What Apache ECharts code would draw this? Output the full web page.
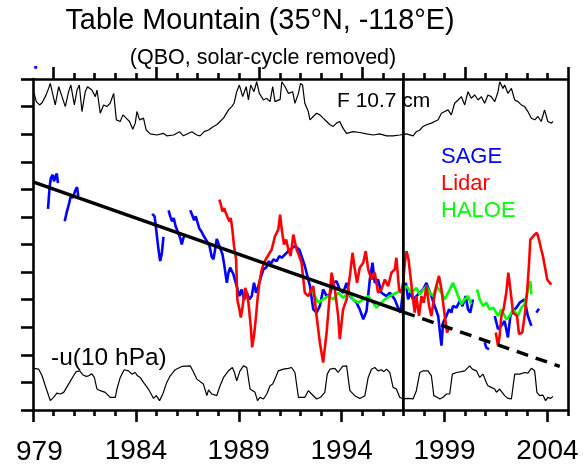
<!DOCTYPE html>
<html><head><meta charset="utf-8">
<script src="https://cdn.jsdelivr.net/npm/echarts@6/dist/echarts.min.js"></script>
<style>html,body{margin:0;padding:0;background:#fff}#c{width:583px;height:465px}</style>
</head><body><div id="c"></div>
<script>
const FONT = 'Liberation Sans, Arial, Helvetica, sans-serif';
const xMajorBottom = [1979, 1984, 1989, 1994, 1999, 2004];
const xLabelled = [1984, 1989, 1994, 1999, 2004];
const firstLabelVisible = '979';
const xMinorBottom = [1980,1981,1982,1983,1985,1986,1987,1988,1990,1991,1992,1993,1995,1996,1997,1998,2000,2001,2002,2003,2005];
const xMajorTop = [1980, 1985, 1990, 1995, 2000, 2005];
const xMinorTop = [1981,1982,1983,1984,1986,1987,1988,1989,1991,1992,1993,1994,1996,1997,1998,1999,2001,2002,2003,2004];
const breakYear = 1997;

const f107 = [[1979.03,11.54],[1979.16,11.18],[1979.32,11.06],[1979.44,11.14],[1979.60,11.36],[1979.76,11.66],[1979.84,11.84],[1979.95,11.48],[1980.08,11.06],[1980.25,11.72],[1980.41,11.36],[1980.57,11.00],[1980.73,11.54],[1980.84,11.78],[1981.01,11.06],[1981.14,11.60],[1981.25,11.78],[1981.38,10.82],[1981.54,11.54],[1981.65,11.72],[1981.86,11.60],[1982.03,11.36],[1982.11,11.60],[1982.27,10.76],[1982.43,11.06],[1982.59,11.00],[1982.75,11.12],[1982.92,11.48],[1983.05,10.52],[1983.24,10.46],[1983.37,10.70],[1983.53,10.58],[1983.69,10.46],[1983.85,10.18],[1983.97,10.40],[1984.05,10.82],[1984.18,10.52],[1984.37,10.58],[1984.50,10.15],[1984.70,10.01],[1985.02,9.97],[1985.34,10.03],[1985.50,9.94],[1985.83,9.97],[1986.12,10.09],[1986.31,9.94],[1986.72,10.09],[1986.96,9.97],[1987.12,9.94],[1987.32,10.09],[1987.53,10.15],[1987.77,10.28],[1987.93,10.34],[1988.09,10.46],[1988.26,10.58],[1988.50,10.88],[1988.66,11.00],[1988.77,11.12],[1988.90,11.54],[1989.03,11.78],[1989.19,11.36],[1989.36,11.72],[1989.47,11.24],[1989.58,11.78],[1989.74,11.54],[1989.87,11.90],[1990.00,11.48],[1990.20,11.24],[1990.36,11.30],[1990.52,11.18],[1990.65,11.72],[1990.76,11.18],[1991.01,11.26],[1991.09,11.90],[1991.25,11.72],[1991.41,11.48],[1991.62,11.54],[1991.73,11.12],[1991.90,11.48],[1992.00,11.84],[1992.10,11.78],[1992.21,11.12],[1992.38,10.82],[1992.46,10.52],[1992.62,10.64],[1992.78,10.76],[1992.94,10.70],[1993.10,10.58],[1993.27,10.46],[1993.43,10.34],[1993.59,10.28],[1993.75,10.40],[1993.91,10.46],[1994.07,10.21],[1994.24,10.03],[1994.56,10.09],[1994.88,10.06],[1995.21,10.01],[1995.53,9.97],[1995.85,10.01],[1996.18,9.94],[1996.50,9.94],[1996.82,9.97],[1997.15,10.01],[1997.47,9.94],[1997.63,10.09],[1997.80,10.15],[1997.96,10.28],[1998.12,10.34],[1998.36,10.40],[1998.52,10.46],[1998.69,10.52],[1998.85,10.76],[1999.01,10.82],[1999.17,10.88],[1999.33,10.70],[1999.49,11.12],[1999.66,11.24],[1999.82,11.36],[1999.98,11.06],[2000.14,11.54],[2000.30,11.30],[2000.47,11.42],[2000.63,11.24],[2000.79,11.36],[2000.95,11.12],[2001.11,11.42],[2001.27,11.36],[2001.44,11.18],[2001.60,11.54],[2001.68,11.90],[2001.84,11.66],[2001.92,11.78],[2002.08,11.48],[2002.25,11.66],[2002.41,11.24],[2002.57,11.18],[2002.73,11.06],[2002.89,11.00],[2003.05,10.82],[2003.22,10.58],[2003.38,10.52],[2003.54,10.64],[2003.70,10.46],[2003.86,10.88],[2004.02,10.46],[2004.19,10.40],[2004.27,10.46]];

const uWind = [[1979.03,1.51],[1979.28,1.48],[1979.44,1.24],[1979.65,0.76],[1979.84,0.34],[1980.00,0.46],[1980.16,0.61],[1980.33,0.58],[1980.49,0.64],[1980.73,0.94],[1980.97,1.24],[1981.10,1.39],[1981.27,1.42],[1981.43,1.27],[1981.59,1.22],[1981.70,1.24],[1981.86,1.31],[1981.98,1.18],[1982.11,0.76],[1982.27,0.70],[1982.51,0.64],[1982.75,0.46],[1983.00,0.46],[1983.08,0.76],[1983.24,1.18],[1983.43,1.46],[1983.64,1.42],[1983.81,1.30],[1983.97,1.36],[1984.08,1.24],[1984.21,1.18],[1984.37,1.00],[1984.61,0.76],[1984.86,0.42],[1984.99,0.52],[1985.15,0.34],[1985.31,0.58],[1985.50,1.00],[1985.67,1.24],[1985.91,1.46],[1986.23,1.58],[1986.64,1.60],[1986.77,1.42],[1986.96,1.12],[1987.28,0.94],[1987.45,0.52],[1987.53,0.73],[1987.69,0.58],[1987.93,0.52],[1988.09,0.88],[1988.26,1.18],[1988.50,1.42],[1988.69,1.54],[1988.79,1.36],[1988.90,1.06],[1989.06,1.42],[1989.23,1.60],[1989.39,1.54],[1989.55,0.76],[1989.79,0.64],[1989.91,0.34],[1990.03,0.46],[1990.20,0.40],[1990.36,0.58],[1990.52,0.88],[1990.65,0.94],[1990.76,1.12],[1990.92,1.42],[1991.17,1.48],[1991.41,1.51],[1991.57,1.54],[1991.73,1.36],[1991.90,0.46],[1992.00,0.46],[1992.21,0.46],[1992.38,0.70],[1992.54,0.58],[1992.78,0.40],[1992.97,0.46],[1993.18,0.64],[1993.30,1.30],[1993.43,1.48],[1993.67,1.51],[1993.83,1.36],[1994.04,1.58],[1994.24,1.60],[1994.40,0.70],[1994.64,0.52],[1994.88,0.42],[1995.13,0.52],[1995.29,1.18],[1995.45,1.48],[1995.61,1.54],[1995.77,1.42],[1995.93,1.46],[1996.05,1.39],[1996.18,1.48],[1996.34,1.36],[1996.50,0.82],[1996.66,0.76],[1996.82,0.46],[1996.99,0.40],[1997.23,0.42],[1997.47,0.40],[1997.63,0.70],[1997.80,1.36],[1997.96,1.42],[1998.20,1.42],[1998.36,1.24],[1998.48,0.52],[1998.64,0.46],[1998.77,0.40],[1998.93,0.46],[1999.09,0.58],[1999.25,0.58],[1999.38,1.30],[1999.58,1.36],[1999.82,1.39],[1999.98,1.42],[2000.22,1.60],[2000.35,1.48],[2000.55,1.42],[2000.71,1.18],[2000.87,1.30],[2001.03,1.00],[2001.11,0.88],[2001.27,0.82],[2001.44,0.76],[2001.52,0.64],[2001.68,0.76],[2001.92,0.52],[2002.08,0.42],[2002.25,0.40],[2002.41,1.30],[2002.65,1.30],[2002.89,1.36],[2003.05,1.34],[2003.22,1.51],[2003.38,1.42],[2003.49,0.64],[2003.62,0.52],[2003.78,0.54],[2003.91,0.34],[2004.02,0.46],[2004.14,0.42],[2004.27,0.49]];

const sage = [[1979.06,12.42],[1979.20,12.42],[1979.4,null],
[1979.73,7.29],[1979.81,8.11],[1979.87,8.41],[1979.95,8.53],[1980.02,8.29],[1980.10,8.49],[1980.16,8.57],[1980.21,8.23],[1980.4,null],
[1980.54,6.84],[1980.65,7.20],[1980.76,7.51],[1980.84,7.77],[1980.94,7.69],[1981.04,7.93],[1981.14,8.08],[1981.20,7.75],[1983,null],
[1984.79,7.11],[1984.91,7.02],[1984.97,6.66],[1985.05,6.12],[1985.12,5.70],[1985.18,5.40],[1985.26,5.67],[1985.34,6.28],[1985.45,null],
[1985.59,7.24],[1985.67,7.02],[1985.76,6.84],[1985.84,6.96],[1985.92,6.69],[1986.04,6.45],[1986.15,6.24],[1986.23,6.00],[1986.31,6.24],[1986.41,6.36],[1986.5,null],
[1986.64,7.24],[1986.73,7.08],[1986.83,6.88],[1986.91,7.02],[1986.99,6.81],[1987.09,6.57],[1987.20,6.45],[1987.32,6.28],[1987.45,6.12],[1987.58,5.94],[1987.69,5.55],[1987.77,5.46],[1987.85,5.82],[1987.93,6.20],[1988.01,6.04],[1988.09,5.88],[1988.21,5.64],[1988.29,5.28],[1988.42,4.61],[1988.50,4.98],[1988.58,5.16],[1988.74,4.92],[1988.90,4.49],[1989.03,4.13],[1989.14,4.37],[1989.26,4.01],[1989.39,4.25],[1989.52,4.01],[1989.63,4.13],[1989.74,4.61],[1989.84,4.25],[1989.95,4.49],[1990.07,4.80],[1990.20,5.10],[1990.33,5.16],[1990.46,5.40],[1990.55,5.28],[1990.68,5.46],[1990.84,5.40],[1990.97,5.58],[1991.09,5.52],[1991.25,5.64],[1991.49,5.82],[1991.73,5.94],[1991.94,5.82],[1992.21,5.22],[1992.46,4.49],[1992.62,3.65],[1992.78,3.53],[1992.94,3.77],[1993.10,4.37],[1993.27,4.13],[1993.43,4.19],[1993.59,4.61],[1993.75,4.67],[1993.91,4.37],[1994.07,4.25],[1994.24,4.61],[1994.40,4.13],[1994.56,4.01],[1994.72,3.89],[1994.88,3.65],[1995.05,3.29],[1995.21,3.59],[1995.37,4.73],[1995.50,5.34],[1995.61,4.61],[1995.77,4.73],[1995.93,4.25],[1996.18,4.13],[1996.34,4.25],[1996.58,4.01],[1996.74,3.71],[1996.86,3.53],[1996.99,4.37],[1997.12,4.61],[1997.23,4.01],[1997.34,4.25],[1997.47,4.01],[1997.63,4.13],[1997.80,4.25],[1997.96,4.37],[1998.12,4.61],[1998.23,4.37],[1998.36,4.13],[1998.52,3.77],[1998.69,3.41],[1998.85,2.33],[1998.93,3.17],[1999.09,3.41],[1999.22,3.65],[1999.33,3.53],[1999.41,3.77],[1999.58,3.71],[1999.74,3.95],[1999.87,3.77],[2000.03,4.13],[2000.14,3.65],[2000.25,3.53],[2000.38,4.01],[2000.6,null],
[2000.95,2.45],[2001.03,2.26],[2001.16,2.20],[2001.3,null],
[2001.44,3.41],[2001.60,2.93],[2001.76,3.05],[2001.92,3.23],[2002.08,2.63],[2002.20,3.41],[2002.33,3.59],[2002.49,3.71],[2002.65,3.89],[2002.89,4.01],[2003.05,3.41],[2003.22,3.05],[2003.35,null],
[2003.46,3.53],[2003.59,3.67]];

const lidar = [[1988.06,7.63],[1988.13,7.44],[1988.21,7.20],[1988.29,7.32],[1988.38,7.12],[1988.47,6.96],[1988.55,6.84],[1988.61,6.96],[1988.69,6.54],[1988.77,5.94],[1988.87,5.46],[1988.93,4.01],[1989.03,3.65],[1989.10,3.35],[1989.19,3.77],[1989.31,4.43],[1989.39,4.25],[1989.47,3.89],[1989.58,3.05],[1989.65,2.27],[1989.74,2.69],[1989.84,3.41],[1989.91,4.01],[1990.00,4.61],[1990.12,5.10],[1990.23,5.34],[1990.36,5.52],[1990.60,5.82],[1990.76,6.30],[1990.92,6.54],[1991.01,7.08],[1991.09,6.54],[1991.20,6.00],[1991.30,6.18],[1991.41,5.82],[1991.52,5.58],[1991.65,6.36],[1991.81,5.82],[1991.94,5.58],[1992.05,5.34],[1992.21,4.25],[1992.38,4.13],[1992.62,4.49],[1992.78,3.41],[1992.94,2.45],[1993.10,1.72],[1993.27,2.81],[1993.43,4.25],[1993.51,4.98],[1993.67,4.37],[1993.83,3.41],[1993.91,2.57],[1994.07,3.65],[1994.24,4.01],[1994.40,4.86],[1994.53,5.70],[1994.64,5.10],[1994.75,4.61],[1994.88,5.16],[1995.05,5.34],[1995.17,5.76],[1995.29,5.10],[1995.45,4.73],[1995.61,4.98],[1995.77,4.25],[1995.93,4.37],[1996.10,4.73],[1996.26,4.49],[1996.42,4.98],[1996.58,5.10],[1996.66,5.52],[1996.79,4.37],[1996.89,4.25],[1996.99,4.61],[1997.07,5.34],[1997.15,5.76],[1997.25,5.46],[1997.34,4.86],[1997.47,4.01],[1997.55,3.53],[1997.63,4.13],[1997.76,3.41],[1997.88,4.13],[1997.99,3.89],[1998.12,4.49],[1998.25,3.77],[1998.36,3.41],[1998.48,4.01],[1998.60,4.49],[1998.73,4.86],[1998.85,4.37],[1999.01,3.41],[1999.12,2.81],[1999.25,2.99],[2000,null],
[2001.49,2.81],[2001.60,2.33],[2001.68,2.69],[2001.76,3.41],[2001.87,3.65],[2002.00,4.25],[2002.10,4.98],[2002.20,4.37],[2002.33,3.53],[2002.52,3.41],[2002.62,2.75],[2002.78,2.81],[2002.89,3.41],[2003.01,4.25],[2003.10,5.22],[2003.17,6.18],[2003.26,6.24],[2003.38,6.36],[2003.49,6.42],[2003.59,6.18],[2003.70,5.82],[2003.78,5.58],[2003.90,5.10],[2003.99,4.73],[2004.11,4.61],[2004.19,4.55]];

const haloe = [[1992.46,4.37],[1992.62,4.25],[1992.86,3.89],[1993.10,4.01],[1993.35,4.13],[1993.59,4.01],[1993.83,4.25],[1994.07,4.07],[1994.32,4.25],[1994.56,4.01],[1994.80,3.89],[1995.05,4.01],[1995.29,4.13],[1995.53,3.89],[1995.69,3.71],[1995.85,3.83],[1996.10,4.01],[1996.34,4.13],[1996.66,4.25],[1996.99,4.37],[1997.15,4.49],[1997.39,4.25],[1997.63,4.43],[1997.80,4.19],[1998.12,4.49],[1998.28,4.25],[1998.44,4.13],[1998.60,4.49],[1998.85,4.25],[1999.01,4.01],[1999.25,4.37],[1999.41,4.61],[1999.66,4.13],[1999.82,3.83],[1999.98,4.01],[2000.14,4.13],[2000.30,3.83],[2000.45,null],
[2000.58,4.37],[2000.71,4.01],[2000.87,3.77],[2001.03,3.89],[2001.19,3.65],[2001.36,3.71],[2001.60,3.41],[2001.76,3.65],[2002.00,3.29],[2002.16,3.41],[2002.33,3.65],[2002.57,3.41],[2002.73,3.71],[2002.89,3.83],[2003.05,4.37],[2003.17,4.67],[2003.22,4.19]];

const trendFit = [[1979.0,8.27],[1997.0,3.55]];
const trendExtrap = [[1997.0,3.55],[2004.6,1.58]];

const chart = echarts.init(document.getElementById('c'), null, {renderer: 'canvas'});
const AX = '#000';
const lineW = 2.6;
function xAxisDef(pos, ticks, len, showLine, labelValues) {
  return {
    type: 'value', min: 1979, max: 2005, position: pos, gridIndex: 0,
    axisLine: {show: showLine, onZero: false, lineStyle: {color: AX, width: lineW}},
    axisTick: {show: true, customValues: ticks, length: len, inside: false, lineStyle: {color: AX, width: lineW}},
    axisLabel: labelValues ? {
      show: true, customValues: labelValues, margin: 27, fontSize: 28, fontFamily: FONT, color: '#000',
      formatter: v => String(v)
    } : {show: false},
    splitLine: {show: false}
  };
}
function line(name, data, color, width, extra) {
  return Object.assign({
    name, type: 'line', data, showSymbol: false, symbol: 'none', connectNulls: false,
    lineStyle: {color, width}, itemStyle: {color}, animation: false, silent: true
  }, extra || {});
}
chart.setOption({
  animation: false,
  backgroundColor: '#fff',
  title: [
    {text: 'Table Mountain (35°N, -118°E)', left: 260, top: 7, textAlign: 'center', padding: 0,
     textStyle: {fontSize: 28.8, fontWeight: 'normal', fontFamily: FONT, color: '#000'}},
    {text: '(QBO, solar-cycle removed)', left: 263, top: 47, textAlign: 'center', padding: 0,
     textStyle: {fontSize: 21.5, fontWeight: 'normal', fontFamily: FONT, color: '#000'}}
  ],
  legend: {
    orient: 'vertical', left: 435, top: 146, itemGap: 5, itemWidth: 0, itemHeight: 0, padding: 0,
    selectedMode: false,
    textStyle: {fontSize: 22, fontFamily: FONT},
    data: [
      {name: 'SAGE', textStyle: {color: '#0000ff'}},
      {name: 'Lidar', textStyle: {color: '#ff0000'}},
      {name: 'HALOE', textStyle: {color: '#00ff00'}}
    ]
  },
  grid: {left: 33, right: 15, top: 79, bottom: 54, containLabel: false},
  xAxis: [
    xAxisDef('bottom', xMajorBottom, 12, true, xLabelled),
    xAxisDef('bottom', xMinorBottom, 6, false, null),
    xAxisDef('top', xMajorTop, 12, true, null),
    xAxisDef('top', xMinorTop, 6, false, null)
  ],
  yAxis: [
    {type: 'value', min: 0, max: 12, interval: 1, position: 'left',
     axisLine: {show: true, onZero: false, lineStyle: {color: AX, width: lineW}},
     axisTick: {show: true, length: 12, lineStyle: {color: AX, width: lineW}},
     axisLabel: {show: false}, splitLine: {show: false}},
    {type: 'value', min: 0, max: 12, interval: 1, position: 'right',
     axisLine: {show: true, onZero: false, lineStyle: {color: AX, width: lineW}},
     axisTick: {show: false}, axisLabel: {show: false}, splitLine: {show: false}}
  ],
  graphic: [
    {type: 'text', left: 16, top: 438, silent: true,
     style: {text: firstLabelVisible, fontSize: 28, fontFamily: FONT, fill: '#000'}},
    {type: 'text', left: 337, top: 91, silent: true,
     style: {text: 'F 10.7 cm', fontSize: 21, fontFamily: FONT, fill: '#000'}},
    {type: 'text', left: 51, top: 346, silent: true,
     style: {text: '-u(10 hPa)', fontSize: 24.5, fontFamily: FONT, fill: '#000'}}
  ],
  series: [
    line('F10.7', f107, '#000', 1.2),
    line('-u(10 hPa)', uWind, '#000', 1.2),
    line('SAGE', sage, '#0000ff', 2.6, {clip: false}),
    line('HALOE', haloe, '#00ff00', 2.6),
    line('Lidar', lidar, '#ff0000', 2.6),
    line('Trend', trendFit, '#000', 3.4),
    line('Trend extrapolated', trendExtrap, '#000', 3.4, {lineStyle: {color: '#000', width: 3.4, type: [12, 8]}}),
    line('Break', [[breakYear, 0], [breakYear, 12]], '#000', 2.8)
  ]
});
</script></body></html>
